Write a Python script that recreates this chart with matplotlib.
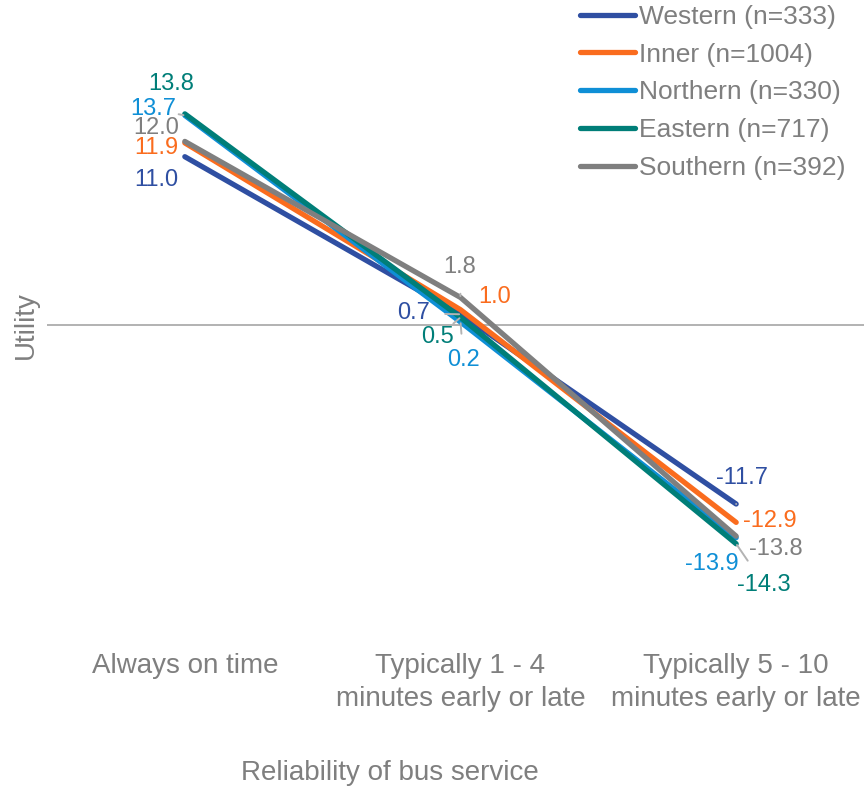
import matplotlib
matplotlib.use("Agg")
import matplotlib.pyplot as plt

plt.rcParams['font.family'] = ['Liberation Sans', 'DejaVu Sans']

categories = ["Always on time",
              "Typically 1 - 4\nminutes early or late",
              "Typically 5 - 10\nminutes early or late"]
series_names = ["Western (n=333)", "Inner (n=1004)", "Northern (n=330)",
                "Eastern (n=717)", "Southern (n=392)"]
western = [11.0, 0.7, -11.7]
inner = [11.9, 1.0, -12.9]
northern = [13.7, 0.2, -13.9]
eastern = [13.8, 0.5, -14.3]
southern = [12.0, 1.8, -13.8]
colors = ["#2F4FA2", "#FA6C1E", "#0F8FD6", "#007E78", "#7F7F7F"]

# label offsets in pixels (dx, dy) per series and category, and whether a leader line is drawn
label_offsets = [
    [(-29, -23, False), (-47, 1, True), (6, 26, True)],      # Western
    [(-29, -5, False), (34, 13, False), (34, 1, False)],     # Inner
    [(-32, 6, True), (3, -38, True), (-24, -26, False)],     # Northern
    [(-14, 30, False), (-23, -20, True), (28, -41, True)],   # Eastern
    [(-29, 13, False), (-1, 30, True), (40, -13, False)],    # Southern
]

W, H = 864, 789
fig = plt.figure(figsize=(W / 100, H / 100), dpi=100)
left_px, right_px = 47, 874
top_px, bot_px = 19, 631
ax = fig.add_axes([left_px / W, 1 - bot_px / H, (right_px - left_px) / W,
                   (bot_px - top_px) / H])
ax.set_xlim(-0.5, 2.5)
ax.set_ylim(-20, 20)
for s in ax.spines.values():
    s.set_visible(False)
ax.set_yticks([])
ax.axhline(0, color="#A6A6A6", lw=1.2, zorder=1)

x = list(range(len(categories)))
all_series = [western, inner, northern, eastern, southern]
for vals, name, c in zip(all_series, series_names, colors):
    ax.plot(x, vals, color=c, lw=3.8, solid_capstyle="round", label=name, zorder=3)

for vals, offs, c in zip(all_series, label_offsets, colors):
    for xi, v, (dx, dy, lead) in zip(x, vals, offs):
        arrow = None
        if lead:
            arrow = dict(arrowstyle="-", color="#B3B3B3", lw=1.4,
                         shrinkA=9, shrinkB=1)
        ax.annotate(f"{v:.1f}", xy=(xi, v), xytext=(dx, dy),
                    textcoords="offset pixels", ha="center", va="center",
                    fontsize=17, color=c, arrowprops=arrow, zorder=4)

ax.set_xticks(x)
ax.set_xticklabels(categories, fontsize=20, color="#7F7F7F", linespacing=1.33)
ax.tick_params(axis="x", length=0, pad=16)

fig.text(390 / W, 1 - 773 / H, "Reliability of bus service", fontsize=20,
         color="#7F7F7F", ha="center", va="center")
fig.text(26 / W, 1 - 325 / H, "Utility", fontsize=20, color="#7F7F7F",
         ha="center", va="center", rotation=90)

leg = fig.legend(loc="upper left", bbox_to_anchor=(580 / W, 1 - 5 / H),
                 frameon=False, fontsize=19, handlelength=2.1,
                 handletextpad=0.15, labelspacing=0.52, borderpad=0,
                 borderaxespad=0)
for t in leg.get_texts():
    t.set_color("#7F7F7F")

fig.savefig("out.png", dpi=100)
